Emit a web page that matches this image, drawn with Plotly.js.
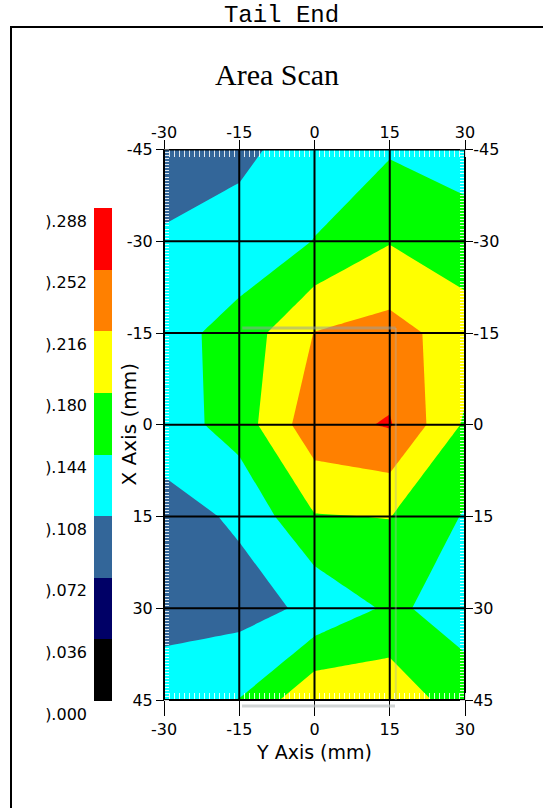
<!DOCTYPE html>
<html><head><meta charset="utf-8">
<script src="https://cdn.plot.ly/plotly-3.0.1.min.js"></script>
<style>html,body{margin:0;padding:0;background:#fff}#chart{width:543px;height:808px}</style>
</head><body><div id="chart"></div>
<script>
// Horizontal axis ("Y Axis (mm)") and vertical axis ("X Axis (mm)") grid positions
const yAxisMM = [-30, -15, 0, 15, 30];
const xAxisMM = [-45, -30, -15, 0, 15, 30, 45];
const yAxisLabels = ['-30', '-15', '0', '15', '30'];
const xAxisLabels = ['-45', '-30', '-15', '0', '15', '30', '45'];

// Measured values, one row per X position (top to bottom), columns follow yAxisMM
const rowXm45 = [0.090, 0.100, 0.125, 0.140, 0.130];
const rowXm30 = [0.112, 0.122, 0.145, 0.178, 0.158];
const rowXm15 = [0.130, 0.158, 0.217, 0.229, 0.199];
const rowX0   = [0.125, 0.160, 0.240, 0.255, 0.175];
const rowX15  = [0.095, 0.113, 0.178, 0.181, 0.141];
const rowX30  = [0.090, 0.095, 0.115, 0.150, 0.130];
const rowX45  = [0.133, 0.145, 0.210, 0.206, 0.159];

// Contour levels and legend labels
const levels = [0.000, 0.036, 0.072, 0.108, 0.144, 0.180, 0.216, 0.252, 0.288];
const levelLabels = [').000', ').036', ').072', ').108', ').144', ').180', ').216', ').252', ').288'];
const bandColors = ['#000000', '#000066', '#336699', '#00ffff', '#00ff00', '#ffff00', '#ff8000', '#ff0000'];

const zGrid = [rowXm45, rowXm30, rowXm15, rowX0, rowX15, rowX30, rowX45];
const step = levels[1] - levels[0];
const nBands = bandColors.length;
const zTop = levels[levels.length - 1];

// Contour colour map: band k (k=0..nBands+1, incl. below/above) centred at k/(nBands+1)
const contourScale = [];
const ext = [bandColors[0]].concat(bandColors, [bandColors[nBands - 1]]);
const N = ext.length - 1;
for (let k = 0; k <= N; k++) {
  const a = k === 0 ? 0 : (k - 0.5) / N;
  const b = k === N ? 1 : (k + 0.5) / N;
  contourScale.push([a, ext[k]]);
  contourScale.push([b, ext[k]]);
}
// Legend bar colour map: equal bands between levels
const barScale = [];
for (let k = 0; k < nBands; k++) {
  barScale.push([k / nBands, bandColors[k]]);
  barScale.push([(k + 1) / nBands, bandColors[k]]);
}
const barMid = levels.slice(0, -1).map((v) => v + step / 2);

const W = 543, H = 808;
const px = (x) => x / W, py = (y) => 1 - y / H;

// legend bar geometry: value 0 at pixel 701, top value at pixel 208; labels drawn 13 px below their level
const barTopPx = 208, barBotPx = 701, labelDropPx = 13, padPx = 16;
const unitPerPx = zTop / (barBotPx - barTopPx);
const labelDrop = labelDropPx * unitPerPx;
const barAxisMin = -(padPx * unitPerPx);

const tickFont = {family: 'DejaVu Sans', size: 16, color: '#000'};
const minorX = {ticks: 'inside', dtick: 1, ticklen: 7, tickwidth: 1, tickcolor: 'rgba(255,255,255,0.85)', showgrid: false};
const minorY = {ticks: 'inside', dtick: 0.5, ticklen: 5, tickwidth: 1, tickcolor: 'rgba(255,255,255,0.85)', showgrid: false};

const traces = [
  {
    type: 'contour', x: yAxisMM, y: xAxisMM, z: zGrid,
    autocontour: false,
    contours: {start: levels[0], end: zTop, size: step, coloring: 'fill', showlines: false},
    line: {smoothing: 0, width: 0},
    colorscale: contourScale, showscale: false, hoverinfo: 'skip'
  },
  {
    type: 'heatmap', x: [0], y: barMid, z: barMid.map((v) => [v]),
    zmin: levels[0], zmax: zTop, colorscale: barScale,
    showscale: false, xaxis: 'x3', yaxis: 'y3', hoverinfo: 'skip'
  },
  {type: 'scatter', x: [], y: [], xaxis: 'x2', yaxis: 'y', showlegend: false, hoverinfo: 'skip'},
  {type: 'scatter', x: [], y: [], xaxis: 'x', yaxis: 'y2', showlegend: false, hoverinfo: 'skip'}
];

const shapes = [];
yAxisMM.forEach((v) => shapes.push({type: 'line', xref: 'x', yref: 'y', x0: v, x1: v, y0: xAxisMM[0], y1: xAxisMM[xAxisMM.length - 1], line: {color: '#000', width: 2}, layer: 'above'}));
xAxisMM.forEach((v) => shapes.push({type: 'line', xref: 'x', yref: 'y', x0: yAxisMM[0], x1: yAxisMM[yAxisMM.length - 1], y0: v, y1: v, line: {color: '#000', width: 2}, layer: 'above'}));
// outer frame
shapes.push({type: 'rect', xref: 'paper', yref: 'paper', x0: px(11), x1: 1.05, y0: -0.05, y1: py(27), line: {color: '#000', width: 2}, fillcolor: 'rgba(0,0,0,0)', layer: 'below'});
// faint selection outline seen in the picture
shapes.push({type: 'line', xref: 'x', yref: 'y', x0: -14.4, x1: 16.2, y0: -15.8, y1: -15.8, line: {color: 'rgba(150,160,160,0.55)', width: 3}, layer: 'above'});
shapes.push({type: 'line', xref: 'x', yref: 'y', x0: 16.2, x1: 16.2, y0: -15.8, y1: 45, line: {color: 'rgba(170,175,175,0.4)', width: 2}, layer: 'above'});
shapes.push({type: 'line', xref: 'paper', yref: 'paper', x0: px(242), x1: px(395), y0: py(706), y1: py(706), line: {color: 'rgba(190,195,195,0.7)', width: 3}, layer: 'above'});

const xDom = [px(164), px(465)];
const yDom = [py(700), py(149.5)];

const layout = {
  width: W, height: H,
  margin: {l: 0, r: 0, t: 0, b: 0},
  paper_bgcolor: '#fff', plot_bgcolor: '#fff',
  showlegend: false,
  title: {text: 'Tail End', font: {family: 'Liberation Mono', size: 24, color: '#000'}, x: px(281.5), xanchor: 'center', y: py(14), yanchor: 'middle'},
  xaxis: {
    domain: xDom, anchor: 'y', range: [yAxisMM[0], yAxisMM[yAxisMM.length - 1]],
    tickvals: yAxisMM, ticktext: yAxisLabels, ticks: 'outside', ticklen: 15, tickwidth: 1, tickcolor: '#000',
    showline: true, linecolor: '#000', linewidth: 1, showgrid: false, zeroline: false,
    tickfont: tickFont, minor: minorX, layer: 'above traces',
    title: {text: 'Y Axis (mm)', font: {family: 'DejaVu Sans', size: 19, color: '#000'}, standoff: 7}
  },
  xaxis2: {
    overlaying: 'x', side: 'top', anchor: 'y', range: [yAxisMM[0], yAxisMM[yAxisMM.length - 1]],
    tickvals: yAxisMM, ticktext: yAxisLabels, ticks: 'outside', ticklen: 9, tickwidth: 1, tickcolor: '#000',
    showline: true, linecolor: '#000', linewidth: 1, showgrid: false, zeroline: false,
    ticklabelstandoff: -5,
    tickfont: tickFont, minor: minorX, layer: 'above traces'
  },
  yaxis: {
    domain: yDom, anchor: 'x', range: [xAxisMM[xAxisMM.length - 1], xAxisMM[0]],
    tickvals: xAxisMM, ticktext: xAxisLabels, ticks: 'outside', ticklen: 7, tickwidth: 1, tickcolor: '#000',
    showline: true, linecolor: '#000', linewidth: 1, showgrid: false, zeroline: false,
    tickfont: tickFont, minor: minorY, layer: 'above traces'
  },
  yaxis2: {
    overlaying: 'y', side: 'right', anchor: 'x', range: [xAxisMM[xAxisMM.length - 1], xAxisMM[0]],
    tickvals: xAxisMM, ticktext: xAxisLabels, ticks: 'outside', ticklen: 7, tickwidth: 1, tickcolor: '#000',
    showline: true, linecolor: '#000', linewidth: 1, showgrid: false, zeroline: false,
    ticklabelstandoff: -3,
    tickfont: tickFont, minor: minorY, layer: 'above traces'
  },
  xaxis3: {domain: [px(94), px(112)], anchor: 'y3', range: [-0.5, 0.5], visible: false, fixedrange: true},
  yaxis3: {
    domain: [py(barBotPx + padPx), py(barTopPx)], anchor: 'free', position: px(87),
    range: [barAxisMin, zTop],
    tickvals: levels.map((v) => v - labelDrop), ticktext: levelLabels, side: 'left', ticks: '', showline: false,
    showgrid: false, zeroline: false,
    tickfont: {family: 'DejaVu Sans', size: 16, color: '#000'}
  },
  annotations: [
    {text: 'Area Scan', xref: 'paper', yref: 'paper', x: px(277), y: py(75), xanchor: 'center', yanchor: 'middle', showarrow: false, font: {family: 'Liberation Serif', size: 30, color: '#000'}},
    {text: 'X Axis (mm)', xref: 'paper', yref: 'paper', x: px(128.5), y: py(425), xanchor: 'center', yanchor: 'middle', textangle: -90, showarrow: false, font: {family: 'DejaVu Sans', size: 20, color: '#000'}}
  ],
  shapes: shapes
};

Plotly.newPlot('chart', traces, layout, {staticPlot: true, displayModeBar: false});
</script>
</body></html>
